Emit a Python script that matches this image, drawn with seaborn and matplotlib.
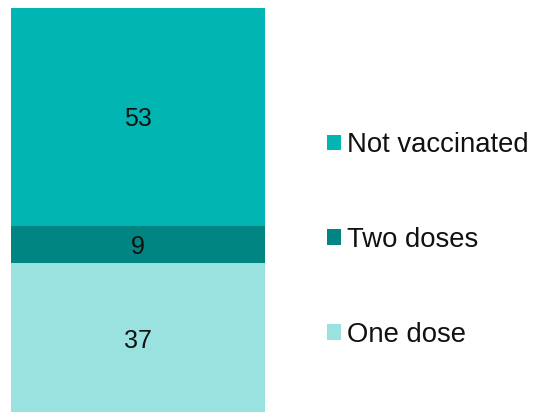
import matplotlib
matplotlib.use("Agg")
import matplotlib.pyplot as plt
from matplotlib.patches import Patch
import seaborn as sns
import pandas as pd
import numpy as np

categories = ["One dose", "Two doses", "Not vaccinated"]
values = [37, 9, 53]
colors = ["#99E2E0", "#008582", "#00B5B2"]

sns.set_theme(style="white")
plt.rcParams['font.family'] = ['Liberation Sans', 'DejaVu Sans']

W, H = 534, 412
fig = plt.figure(figsize=(W / 100, H / 100), dpi=100)
ax = fig.add_axes([11 / W, (H - 415) / H, 254 / W, 407 / H])

cum = np.cumsum(values)
# draw from top layer to bottom so lower layers overlay
for cat, top, col in reversed(list(zip(categories, cum, colors))):
    df = pd.DataFrame({"x": ["all"], "y": [top]})
    sns.barplot(data=df, x="x", y="y", color=col, width=1.0, ax=ax,
                saturation=1, edgecolor="none", linewidth=0)

bottoms = cum - np.array(values)
for v, b in zip(values, bottoms):
    ax.text(0, b + v / 2, str(v), ha="center", va="center_baseline",
            fontsize=18, color="#111111")

ax.set_xlim(-0.5, 0.5)
ax.set_ylim(0, sum(values))
ax.axis("off")

handles = [Patch(facecolor=c, edgecolor="none") for c in reversed(colors)]
fig.legend(handles, list(reversed(categories)), loc="center left",
           bbox_to_anchor=(327 / W, 1 - 240 / H), frameon=False,
           fontsize=19.8, handlelength=0.5, handleheight=0.5,
           handletextpad=0.22, labelspacing=2.5, borderpad=0,
           borderaxespad=0, labelcolor="#111111")

fig.savefig("out.png", dpi=100)
